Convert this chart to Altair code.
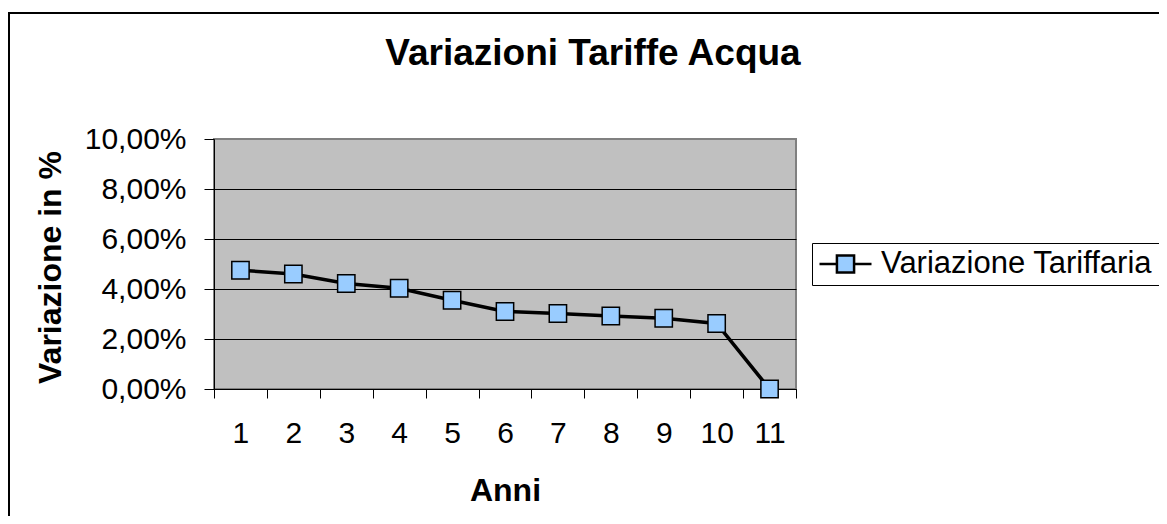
import altair as alt
import pandas as pd

# ---- data ----
anni = list(range(1, 12))
variazione = [4.75, 4.60, 4.22, 4.03, 3.55, 3.10, 3.02, 2.92, 2.83, 2.62, 0.00]  # percent
serie = "Variazione Tariffaria"
y_ticks = [0, 2, 4, 6, 8, 10]

df = pd.DataFrame({"anno": anni, "variazione": variazione, "serie": [serie] * len(anni)})

FONT = "Liberation Sans"
PLOT_W, PLOT_H = 582, 250

x_enc = alt.X(
    "anno:O",
    scale=alt.Scale(type="band", paddingInner=0, paddingOuter=0),
    axis=alt.Axis(
        title="Anni",
        tickBand="extent",
        labelAngle=0,
        labelFontSize=30,
        labelFont=FONT,
        labelColor="black",
        labelPadding=20,
        tickSize=9,
        tickColor="black",
        domainColor="black",
        grid=False,
        titleFont=FONT,
        titleFontSize=32,
        titleFontWeight="bold",
        titleColor="black",
        titleY=101,
        titleBaseline="middle",
    ),
)

y_enc = alt.Y(
    "variazione:Q",
    scale=alt.Scale(domain=[0, 10], nice=False),
    axis=alt.Axis(
        title="Variazione in %",
        values=y_ticks,
        labelExpr="replace(format(datum.value, '.2f'), '.', ',') + '%'",
        labelFontSize=30,
        labelFont=FONT,
        labelColor="black",
        labelPadding=18,
        tickSize=10,
        tickColor="black",
        domainColor="black",
        grid=True,
        gridColor={"condition": {"test": "datum.value >= 10", "value": "#808080"}, "value": "black"},
        gridWidth=1,
        titleFont=FONT,
        titleFontSize=32,
        titleFontWeight="bold",
        titleColor="black",
        titleX=-164,
        titleY=128,
        titleAlign="center",
        titleBaseline="middle",
    ),
)

line = alt.Chart(df).mark_line(strokeWidth=3.5).encode(
    x=x_enc,
    y=y_enc,
    color=alt.Color(
        "serie:N",
        scale=alt.Scale(domain=[serie], range=["black"]),
        legend=alt.Legend(
            title=None,
            orient="none",
            legendX=598,
            legendY=104,
            symbolType="M-1,0H-0.33M0.33,0H1M-0.33,-0.33H0.33V0.33H-0.33Z",
            symbolSize=2704,
            symbolStrokeWidth=2.5,
            symbolFillColor="#99CCFF",
            labelFont=FONT,
            labelFontSize=31,
            labelColor="black",
            labelOffset=8,
            labelLimit=500,
            padding=6,
            clipHeight=30,
            strokeColor="black",
            fillColor="white",
        ),
    ),
)

points = alt.Chart(df).mark_point(
    shape="square", filled=True, fill="#99CCFF", stroke="black",
    strokeWidth=1.5, size=300, opacity=1,
).encode(x=x_enc, y=y_enc)

frame = alt.Chart(pd.DataFrame({"f": [0]})).mark_rect(
    fillOpacity=0, stroke="black", strokeWidth=2
).encode(
    x=alt.value(-205), x2=alt.value(1100), y=alt.value(-126), y2=alt.value(1000)
)

chart = (
    alt.layer(frame, line, points)
    .properties(
        width=PLOT_W,
        height=PLOT_H,
        title=alt.TitleParams(
            "Variazioni Tariffe Acqua",
            font=FONT, fontSize=37, fontWeight="bold", color="black",
            anchor="middle", baseline="alphabetic", offset=0, dx=88, dy=90,
        ),
        autosize=alt.AutoSizeParams(type="none"),
        padding={"left": 206, "top": 131, "right": 363, "bottom": 127},
        background="white",
    )
    .configure_view(fill="#C0C0C0", stroke="#808080", strokeWidth=2)
)

chart.save("out.html", embed_options={"renderer": "svg", "actions": False})
